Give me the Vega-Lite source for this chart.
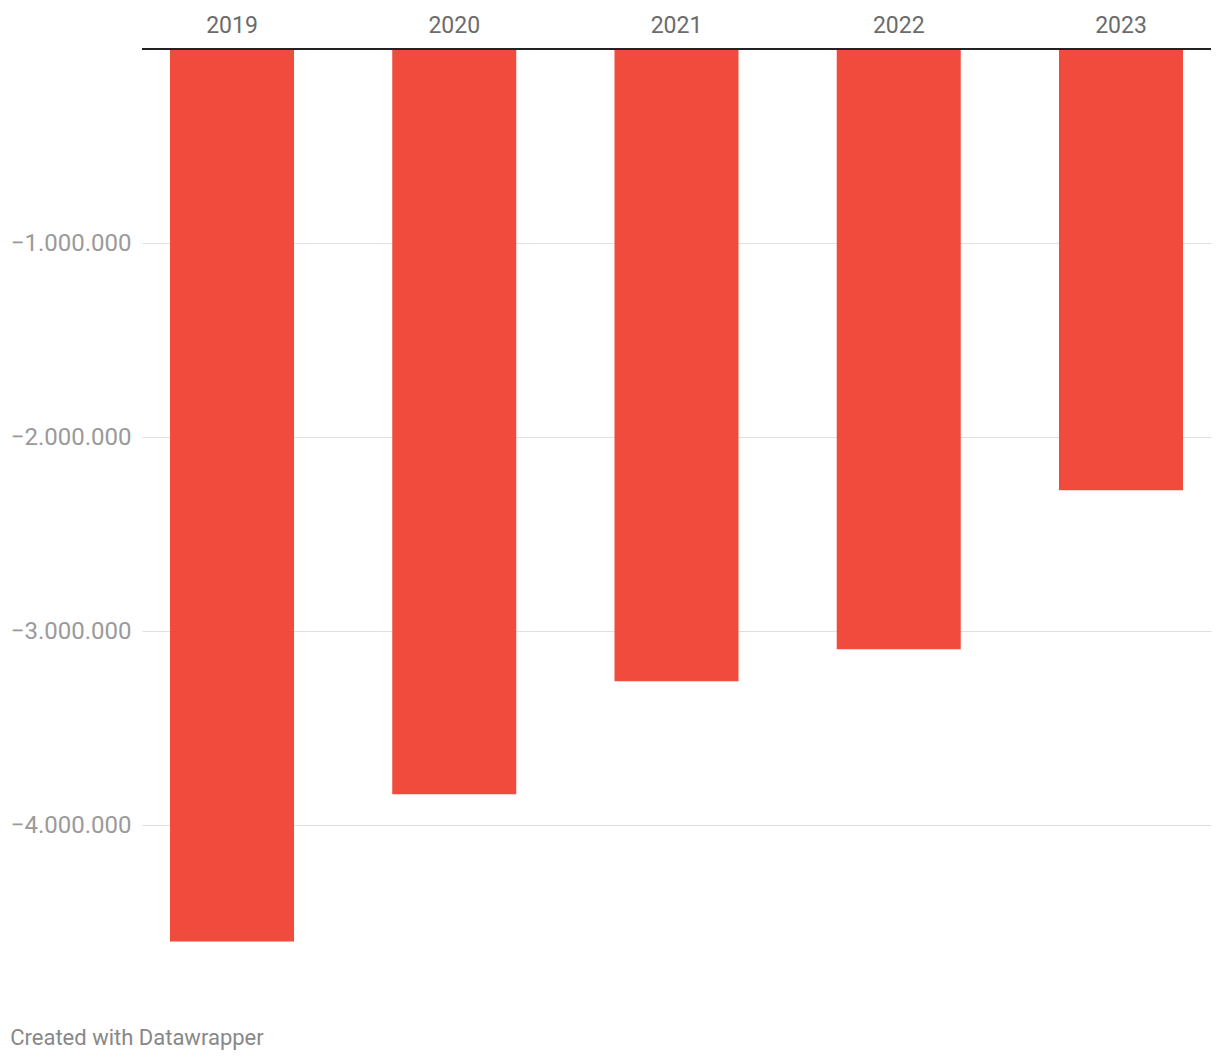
{
  "$schema": "https://vega.github.io/schema/vega-lite/v6.json",
  "autosize": "none",
  "width": 1069,
  "height": 951,
  "padding": {"left": 142, "top": 49, "right": 9, "bottom": 62},
  "background": "white",
  "title": {
    "text": "Created with Datawrapper",
    "orient": "bottom",
    "anchor": "start",
    "frame": "bounds",
    "font": "Roboto",
    "fontSize": 22,
    "fontWeight": "normal",
    "color": "#888888",
    "offset": 28
  },
  "data": {
    "values": [
      {"year": "2019", "value": -4598000},
      {"year": "2020", "value": -3840000},
      {"year": "2021", "value": -3258000},
      {"year": "2022", "value": -3093000},
      {"year": "2023", "value": -2273000}
    ]
  },
  "layer": [
    {
      "mark": {"type": "bar", "color": "#f04b3c"},
      "encoding": {
        "x": {
          "field": "year",
          "type": "ordinal",
          "scale": {"paddingInner": 0.442, "paddingOuter": 0.126},
          "axis": {
            "orient": "top",
            "title": null,
            "labelAngle": 0,
            "ticks": false,
            "domain": false,
            "labelFont": "Roboto",
            "labelFontSize": 23,
            "labelColor": "#6b6b6b",
            "labelPadding": 12
          }
        },
        "y": {
          "field": "value",
          "type": "quantitative",
          "scale": {"domain": [-4900000, 0], "nice": false},
          "axis": {
            "title": null,
            "values": [-1000000, -2000000, -3000000, -4000000],
            "format": ",d",
            "ticks": false,
            "domain": false,
            "grid": true,
            "gridColor": "#e0e0e0",
            "gridWidth": 1,
            "labelFont": "Roboto",
            "labelFontSize": 24,
            "labelColor": "#9a9a9a",
            "labelPadding": 11
          }
        }
      }
    },
    {
      "data": {"values": [{"v": 0}]},
      "mark": {"type": "rule", "color": "#222222", "strokeWidth": 2},
      "encoding": {"y": {"field": "v", "type": "quantitative"}}
    }
  ],
  "config": {
    "view": {"stroke": null},
    "locale": {
      "number": {
        "decimal": ",",
        "thousands": ".",
        "grouping": [3],
        "currency": ["", " €"],
        "minus": "−"
      }
    }
  }
}
